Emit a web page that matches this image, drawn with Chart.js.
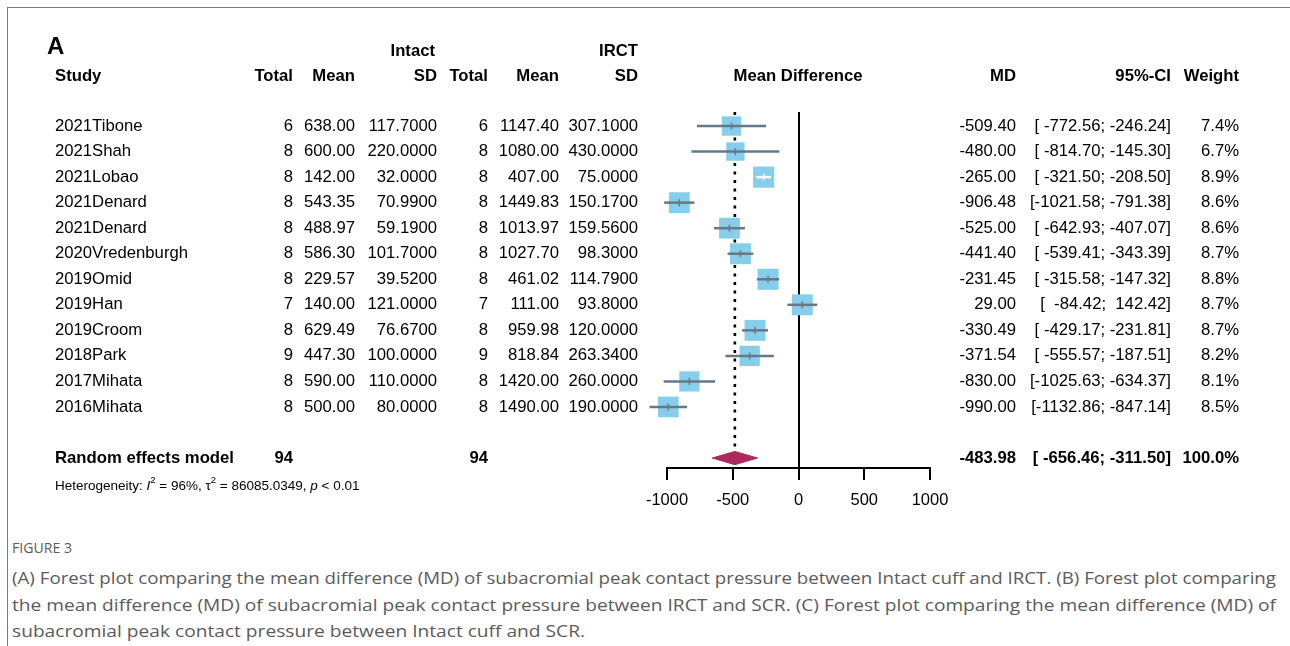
<!DOCTYPE html>
<html>
<head>
<meta charset="utf-8">
<title>Forest plot - subacromial peak contact pressure</title>
<script src="https://cdn.jsdelivr.net/npm/chart.js@4.4.1/dist/chart.umd.min.js"></script>
<style>
  html, body { margin: 0; padding: 0; background: #fff; }
  body { width: 1290px; height: 646px; position: relative; overflow: hidden; }
  #frame { position: absolute; left: 7px; top: 7px; right: -2px; bottom: -2px; border-top: 1px solid #7a7a7a; border-left: 1px solid #7a7a7a; }
  #plot { position: absolute; left: 0; top: 0; width: 1290px; height: 520px; }
  .cap { position: absolute; left: 12px; white-space: pre; font-family: "Open Sans", sans-serif; color: #5b5b5b; transform-origin: 0 50%; }
  #fig { top: 538px; font-size: 14px; line-height: 20px; }
  .line { font-size: 17px; line-height: 26px; }
</style>
</head>
<body>
<div id="frame"></div>
<div id="plot"><canvas id="forest"></canvas></div>
<div class="cap" id="fig" data-w="60">FIGURE 3</div>
<div class="cap line" style="top:565px" data-w="1264">(A) Forest plot comparing the mean difference (MD) of subacromial peak contact pressure between Intact cuff and IRCT. (B) Forest plot comparing</div>
<div class="cap line" style="top:592px" data-w="1264">the mean difference (MD) of subacromial peak contact pressure between IRCT and SCR. (C) Forest plot comparing the mean difference (MD) of</div>
<div class="cap line" style="top:618px" data-w="573">subacromial peak contact pressure between Intact cuff and SCR.</div>
<script>
// study rows
const studies = ["2021Tibone", "2021Shah", "2021Lobao", "2021Denard", "2021Denard", "2020Vredenburgh",
  "2019Omid", "2019Han", "2019Croom", "2018Park", "2017Mihata", "2016Mihata"]
const totalIntact = [6, 8, 8, 8, 8, 8, 8, 7, 8, 9, 8, 8]
const meanIntact = [638.00, 600.00, 142.00, 543.35, 488.97, 586.30, 229.57, 140.00, 629.49, 447.30, 590.00, 500.00]
const sdIntact = [117.7, 220.0, 32.0, 70.99, 59.19, 101.7, 39.52, 121.0, 76.67, 100.0, 110.0, 80.0]
const totalIrct = [6, 8, 8, 8, 8, 8, 8, 7, 8, 9, 8, 8]
const meanIrct = [1147.40, 1080.00, 407.00, 1449.83, 1013.97, 1027.70, 461.02, 111.00, 959.98, 818.84, 1420.00, 1490.00]
const sdIrct = [307.1, 430.0, 75.0, 150.17, 159.56, 98.3, 114.79, 93.8, 120.0, 263.34, 260.0, 190.0]
const meanDiff = [-509.40, -480.00, -265.00, -906.48, -525.00, -441.40, -231.45, 29.00, -330.49, -371.54, -830.00, -990.00]
const ciLower = [-772.56, -814.70, -321.50, -1021.58, -642.93, -539.41, -315.58, -84.42, -429.17, -555.57, -1025.63, -1132.86]
const ciUpper = [-246.24, -145.30, -208.50, -791.38, -407.07, -343.39, -147.32, 142.42, -231.81, -187.51, -634.37, -847.14]
const weights = [7.4, 6.7, 8.9, 8.6, 8.6, 8.7, 8.8, 8.7, 8.7, 8.2, 8.1, 8.5]

// random effects summary
const pooledTotals = [94, 94]
const pooledMd = -483.98
const pooledCi = [-656.46, -311.50]
const pooledWeight = 100.0
const xTicks = [-1000, -500, 0, 500, 1000]

const pooledRow = studies.length + 1
const FONT = '"Liberation Sans", Arial, sans-serif'
const SQUARE = "#87CEEB"
const CI_GREY = "#65788A"
const DIAMOND = "#AD2A5F"

// square side grows with sqrt(weight)
const boxSide = w => 7.1 * Math.sqrt(w)

// CI fully hidden by its square -> draw it white
const ciInside = (chart, i) => {
  const x = chart.scales.x
  return x.getPixelForValue(ciUpper[i]) - x.getPixelForValue(ciLower[i]) < boxSide(weights[i])
}

const ciPoints = []
studies.forEach((s, i) => {
  ciPoints.push({ x: ciLower[i], y: i }, { x: ciUpper[i], y: i }, { x: ciUpper[i], y: null })
})

const padCi = (lo, hi) => "[" + lo.toFixed(2).padStart(8) + "; " + hi.toFixed(2).padStart(7) + "]"

const col = { study: 55, total1: 293, mean1: 355, sd1: 437, total2: 488, mean2: 559, sd2: 638, md: 1016, ci: 1171, weight: 1239 }

const tablePlugin = {
  id: "forestTable",
  afterDraw(chart) {
    const { ctx } = chart
    const y = chart.scales.y
    ctx.save()
    ctx.fillStyle = "#000"
    ctx.textBaseline = "middle"
    const text = (s, x, row, align = "right", bold = false, size = 16.7) => {
      ctx.font = (bold ? "bold " : "") + size + "px " + FONT
      ctx.textAlign = align
      ctx.fillText(s, x, y.getPixelForValue(row))
    }

    // headings
    text("A", 47, -3.1, "left", true, 24)
    text("Intact", 435, -2.93, "right", true)
    text("IRCT", col.sd2, -2.93, "right", true)
    text("Study", col.study, -1.95, "left", true)
    text("Total", col.total1, -1.95, "right", true)
    text("Mean", col.mean1, -1.95, "right", true)
    text("SD", col.sd1, -1.95, "right", true)
    text("Total", col.total2, -1.95, "right", true)
    text("Mean", col.mean2, -1.95, "right", true)
    text("SD", col.sd2, -1.95, "right", true)
    text("Mean Difference", 798, -1.95, "center", true)
    text("MD", col.md, -1.95, "right", true)
    text("95%-CI", col.ci, -1.95, "right", true)
    text("Weight", col.weight, -1.95, "right", true)

    studies.forEach((s, i) => {
      text(s, col.study, i, "left")
      text(String(totalIntact[i]), col.total1, i)
      text(meanIntact[i].toFixed(2), col.mean1, i)
      text(sdIntact[i].toFixed(4), col.sd1, i)
      text(String(totalIrct[i]), col.total2, i)
      text(meanIrct[i].toFixed(2), col.mean2, i)
      text(sdIrct[i].toFixed(4), col.sd2, i)
      text(meanDiff[i].toFixed(2), col.md, i)
      text(padCi(ciLower[i], ciUpper[i]), col.ci, i)
      text(weights[i].toFixed(1) + "%", col.weight, i)
    })

    text("Random effects model", col.study, pooledRow, "left", true)
    text(String(pooledTotals[0]), col.total1, pooledRow, "right", true)
    text(String(pooledTotals[1]), col.total2, pooledRow, "right", true)
    text(pooledMd.toFixed(2), col.md, pooledRow, "right", true)
    text(padCi(pooledCi[0], pooledCi[1]), col.ci, pooledRow, "right", true)
    text(pooledWeight.toFixed(1) + "%", col.weight, pooledRow, "right", true)

    // heterogeneity line, pieces with italics and superscripts
    const hy = y.getPixelForValue(pooledRow + 1.1)
    const parts = [
      ["Heterogeneity: ", ""], ["I", "italic"], ["2", "sup"], [" = 96%, ", ""], ["\u03c4", ""], ["2", "sup"],
      [" = 86085.0349, ", ""], ["p", "italic"], [" < 0.01", ""]
    ]
    let hx = col.study
    ctx.textAlign = "left"
    parts.forEach(([s, kind]) => {
      const size = kind === "sup" ? 9.5 : 13.5
      ctx.font = (kind === "italic" ? "italic " : "") + size + "px " + FONT
      ctx.fillText(s, hx, kind === "sup" ? hy - 6 : hy)
      hx += ctx.measureText(s).width
    })
    ctx.restore()
  }
}

new Chart(document.getElementById("forest"), {
  type: "scatter",
  data: {
    datasets: [
      {
        // estimate tick inside each square
        data: meanDiff.map((v, i) => ({ x: v, y: i })),
        pointStyle: "line",
        pointRotation: 90,
        pointRadius: 3.5,
        pointBorderWidth: 1.5,
        pointBorderColor: c => ciInside(c.chart, c.dataIndex) ? "#fff" : CI_GREY,
        clip: false,
        order: 0
      },
      {
        type: "line",
        data: ciPoints,
        borderColor: CI_GREY,
        borderWidth: 2.5,
        borderCapStyle: "butt",
        pointRadius: 0,
        spanGaps: false,
        segment: {
          borderColor: c => ciInside(c.chart, Math.floor(c.p0DataIndex / 3)) ? "#fff" : CI_GREY
        },
        clip: false,
        order: 1
      },
      {
        data: meanDiff.map((v, i) => ({ x: v, y: i })),
        pointStyle: "rect",
        pointRadius: c => boxSide(weights[c.dataIndex]) / Math.SQRT2,
        pointBackgroundColor: SQUARE,
        pointBorderWidth: 0,
        clip: false,
        order: 2
      },
      {
        type: "line",
        data: [
          { x: pooledCi[0], y: pooledRow },
          { x: pooledMd, y: pooledRow - 0.26 },
          { x: pooledCi[1], y: pooledRow },
          { x: pooledMd, y: pooledRow + 0.26 },
          { x: pooledCi[0], y: pooledRow }
        ],
        borderColor: DIAMOND,
        backgroundColor: DIAMOND,
        borderWidth: 1,
        fill: "shape",
        tension: 0,
        pointRadius: 0,
        clip: false,
        order: 3
      },
      {
        // pooled estimate reference line
        type: "line",
        data: [{ x: pooledMd, y: -0.55 }, { x: pooledMd, y: pooledRow - 0.45 }],
        borderColor: "#000",
        borderWidth: 2.6,
        borderDash: [3, 5.5],
        borderCapStyle: "butt",
        pointRadius: 0,
        clip: false,
        order: 4
      }
    ]
  },
  options: {
    responsive: true,
    maintainAspectRatio: false,
    animation: false,
    events: [],
    layout: { padding: { left: 667, right: 360, top: 112, bottom: 0 } },
    plugins: { legend: { display: false }, tooltip: { enabled: false } },
    scales: {
      x: {
        type: "linear",
        min: -1000,
        max: 1000,
        afterBuildTicks: s => { s.ticks = xTicks.map(v => ({ value: v })) },
        afterFit: s => { s.height = 52 },
        border: { display: true, color: "#000", width: 2 },
        grid: {
          color: c => (c.tick && c.tick.value === 0 ? "#000" : "rgba(0,0,0,0)"),
          lineWidth: 2,
          tickColor: "#000",
          tickWidth: 2,
          tickLength: 12
        },
        ticks: {
          color: "#000",
          padding: 11,
          maxRotation: 0,
          font: { size: 16.5, family: FONT },
          callback: v => String(v)
        }
      },
      y: {
        type: "linear",
        display: false,
        reverse: true,
        min: -0.55,
        max: 13.39
      }
    }
  },
  plugins: [tablePlugin]
})

// caption lines are set in a condensed width
document.querySelectorAll(".cap").forEach(el => {
  const w = el.getBoundingClientRect().width
  el.style.transform = "scaleX(" + (Number(el.dataset.w) / w) + ")"
})
</script>
</body>
</html>
